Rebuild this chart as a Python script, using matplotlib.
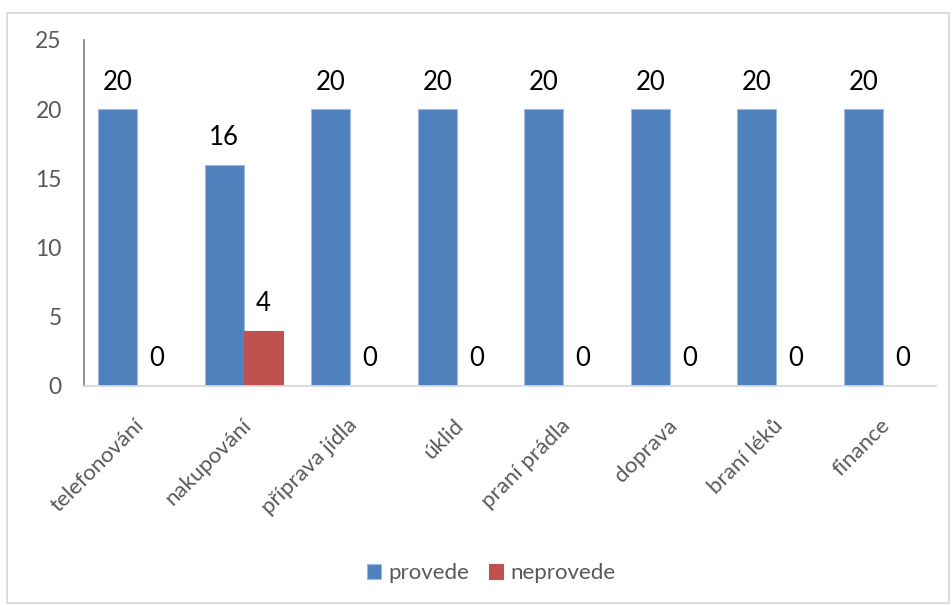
import matplotlib
matplotlib.use("Agg")
import matplotlib.pyplot as plt
from matplotlib.patches import Rectangle
from matplotlib.transforms import ScaledTranslation
import numpy as np

categories = ["telefonování", "nakupování", "příprava jídla", "úklid",
              "praní prádla", "doprava", "braní léků", "finance"]
provede = [20, 16, 20, 20, 20, 20, 20, 20]
neprovede = [0, 4, 0, 0, 0, 0, 0, 0]
series_names = ["provede", "neprovede"]
yticks = [0, 5, 10, 15, 20, 25]

plt.rcParams['font.family'] = ['Lato', 'DejaVu Sans']

W, H = 953, 605
fig = plt.figure(figsize=(W / 100, H / 100), dpi=100)
ax = fig.add_axes([84 / W, 1 - 386 / H, (936 - 84) / W, (386 - 40) / H])

x = np.arange(len(categories))
bw = 0.366
b1 = ax.bar(x - bw / 2, provede, bw, color="#4F81BD", edgecolor="#9DB9DE",
            linewidth=0.8, label=series_names[0])
b2 = ax.bar(x + bw / 2, neprovede, bw, color="#C0504D", edgecolor="#C0504D",
            linewidth=0.8, label=series_names[1])

for bars, vals in ((b1, provede), (b2, neprovede)):
    for r, v in zip(bars, vals):
        ax.annotate(str(v), (r.get_x() + r.get_width() / 2, v),
                    xytext=(0, 27), textcoords="offset pixels",
                    ha="center", va="center", fontsize=18.5, color="black")

ax.set_xlim(-0.5, len(categories) - 0.5)
ax.set_ylim(0, 25)
ax.set_yticks(yticks)
ax.set_yticklabels([str(t) for t in yticks], fontsize=16.5, color="#595959")
ax.set_xticks(x)
ax.set_xticklabels(categories, rotation=45, ha="right", va="top",
                   rotation_mode="anchor", fontsize=16, color="#595959")
ax.tick_params(axis="both", length=0)
ax.tick_params(axis="y", pad=16)
ax.tick_params(axis="x", pad=21)
shift = ScaledTranslation(-3 / 100, 0, fig.dpi_scale_trans)
for lab in ax.get_xticklabels():
    lab.set_transform(lab.get_transform() + shift)

for s in ("top", "right"):
    ax.spines[s].set_visible(False)
ax.spines["left"].set_color("#868686")
ax.spines["left"].set_linewidth(1.3)
ax.spines["bottom"].set_color("#D9D9D9")
ax.spines["bottom"].set_linewidth(1.3)

leg = fig.legend(handles=[b1, b2], labels=series_names, loc="center",
                 bbox_to_anchor=(491 / W, 1 - 573 / H), ncol=2, frameon=False,
                 fontsize=16, handlelength=0.65, handleheight=0.65,
                 handletextpad=0.3, columnspacing=0.9)
for t in leg.get_texts():
    t.set_color("#595959")

fig.patches.append(Rectangle((7 / W, 2 / H), (949 - 7) / W, (603 - 13) / H,
                             transform=fig.transFigure, fill=False,
                             edgecolor="#D9D9D9", linewidth=1.3))

fig.savefig("out.png", dpi=100, facecolor="white")
